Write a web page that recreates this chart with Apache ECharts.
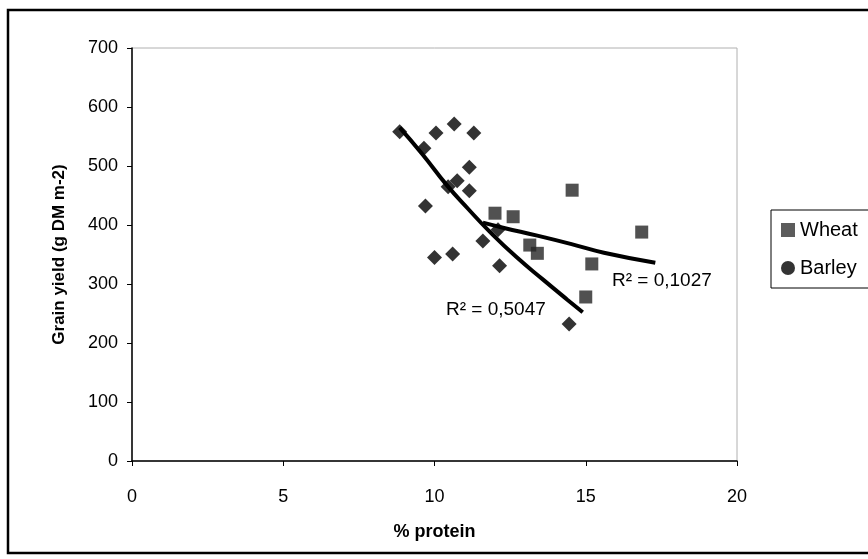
<!DOCTYPE html>
<html>
<head>
<meta charset="utf-8">
<script src="https://cdn.jsdelivr.net/npm/echarts@6/dist/echarts.min.js"></script>
<style>
  html, body { margin: 0; padding: 0; background: #fff; }
  #chart { width: 868px; height: 559px; }
</style>
</head>
<body>
<div id="chart"></div>
<script>
// valeurs
var xTicks = [0, 5, 10, 15, 20];
var yTicks = [0, 100, 200, 300, 400, 500, 600, 700];

// Wheat (carrés)
var wheatX = [12.0, 12.6, 13.15, 13.4, 14.55, 15.0, 15.2, 16.85];
var wheatY = [420, 414, 366, 352, 459, 278, 334, 388];

// Barley (losanges)
var barleyX = [8.85, 9.65, 9.7, 10.0, 10.05, 10.45, 10.6, 10.65, 10.75, 11.15, 11.15, 11.3, 11.6, 12.1, 12.15, 14.45];
var barleyY = [558, 530, 432, 345, 556, 465, 351, 571, 475, 498, 458, 556, 373, 392, 331, 232];

// courbes de tendance (points relevés le long des traits)
var wheatTrendX = [11.6, 12.3, 13.4, 14.5, 15.6, 17.3];
var wheatTrendY = [404, 395, 382, 368, 353, 336];
var barleyTrendX = [8.85, 9.6, 10.4, 11.1, 11.8, 12.7, 13.6, 14.4, 14.9];
var barleyTrendY = [565, 520, 468, 428, 390, 346, 307, 273, 252];

var r2Labels = ['R² = 0,5047', 'R² = 0,1027'];

function pairs(xs, ys) {
    var out = [];
    for (var i = 0; i < xs.length; i++) out.push([xs[i], ys[i]]);
    return out;
}

var myChart = echarts.init(document.getElementById('chart'));
var fontFam = '"Liberation Sans", Arial, sans-serif';
var option = {
    backgroundColor: '#fff',
    animation: false,
    textStyle: { fontFamily: fontFam },
    grid: {
        left: 132, right: 131, top: 48, bottom: 98,
        show: true, borderColor: '#b0b0b0', borderWidth: 1
    },
    legend: {
        orient: 'vertical',
        left: 771, top: 210,
        padding: [10, 12, 10, 10],
        itemGap: 18,
        itemWidth: 14, itemHeight: 14,
        borderColor: '#000', borderWidth: 1,
        textStyle: { fontSize: 20, color: '#000', fontFamily: fontFam, lineHeight: 20 },
        data: [
            { name: 'Wheat', icon: 'rect', itemStyle: { color: '#333' } },
            { name: 'Barley', icon: 'circle', itemStyle: { color: '#000' } }
        ]
    },
    xAxis: {
        type: 'value',
        min: xTicks[0], max: xTicks[xTicks.length - 1], interval: 5,
        name: '% protein',
        nameLocation: 'middle', nameGap: 62,
        nameTextStyle: { fontSize: 18, fontWeight: 'bold', color: '#000' },
        axisLine: { lineStyle: { color: '#000', width: 1.5 } },
        axisTick: { show: true, length: 5, lineStyle: { color: '#000' } },
        axisLabel: { fontSize: 18, color: '#000', margin: 27 },
        splitLine: { show: false }
    },
    yAxis: {
        type: 'value',
        min: yTicks[0], max: yTicks[yTicks.length - 1], interval: 100,
        name: 'Grain yield (g DM m-2)',
        nameLocation: 'middle', nameGap: 64,
        nameTextStyle: { fontSize: 17, fontWeight: 'bold', color: '#000' },
        axisLine: { show: true, lineStyle: { color: '#000', width: 1.5 } },
        axisTick: { show: true, length: 5, lineStyle: { color: '#000' } },
        axisLabel: { fontSize: 18, color: '#000', margin: 14 },
        splitLine: { show: false }
    },
    series: [
        {
            name: 'Wheat', type: 'scatter',
            symbol: 'rect', symbolSize: 13,
            itemStyle: { color: '#262626' },
            data: pairs(wheatX, wheatY), z: 3
        },
        {
            name: 'Barley', type: 'scatter',
            symbol: 'diamond', symbolSize: 15,
            itemStyle: { color: '#000' },
            data: pairs(barleyX, barleyY), z: 3
        },
        {
            name: 'Barley trend', type: 'line',
            smooth: true, showSymbol: false, silent: true,
            lineStyle: { color: '#000', width: 4 },
            data: pairs(barleyTrendX, barleyTrendY), z: 4
        },
        {
            name: 'Wheat trend', type: 'line',
            smooth: true, showSymbol: false, silent: true,
            lineStyle: { color: '#000', width: 4 },
            data: pairs(wheatTrendX, wheatTrendY), z: 4
        }
    ],
    graphic: [
        {
            type: 'rect', silent: true, z: -1,
            shape: { x: 8, y: 10, width: 870, height: 543 },
            style: { fill: 'none', stroke: '#000', lineWidth: 2.5 }
        },
        {
            type: 'text', left: 446, top: 300, z: 10,
            style: { text: r2Labels[0], fontSize: 19, fill: '#000', fontFamily: fontFam }
        },
        {
            type: 'text', left: 612, top: 271, z: 10,
            style: { text: r2Labels[1], fontSize: 19, fill: '#000', fontFamily: fontFam }
        }
    ]
};
option && myChart.setOption(option);
</script>
</body>
</html>
